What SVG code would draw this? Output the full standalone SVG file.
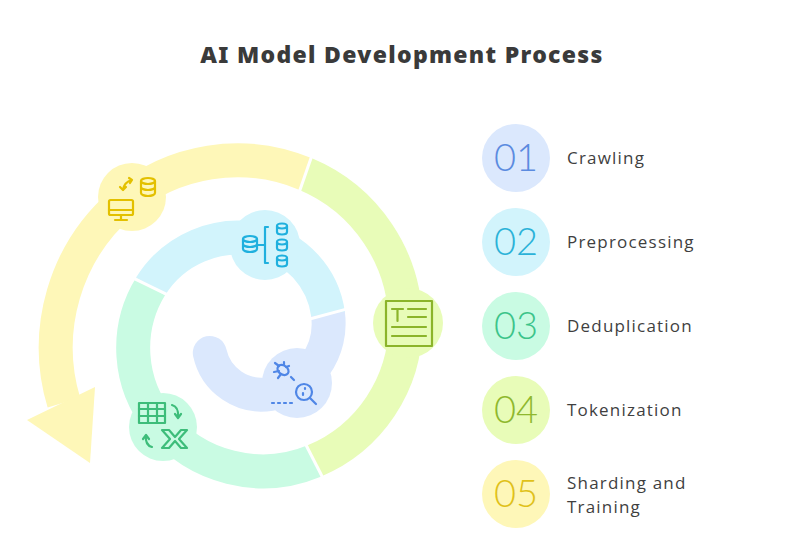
<svg xmlns="http://www.w3.org/2000/svg" width="793" height="537" viewBox="0 0 793 537">
<style>
.band{fill:none;stroke-width:34}
.sep{stroke:#fff;stroke-width:3}
.ic{fill:none;stroke-width:2.2;stroke-linecap:round;stroke-linejoin:round}
.num{font-family:Lato,"Liberation Sans",sans-serif;font-size:38px;font-weight:300}
.lbl{font-family:"Open Sans","Liberation Sans",sans-serif;font-size:17px;fill:#3f3f3f;letter-spacing:1.2px}
</style>
<rect width="793" height="537" fill="#fff"/>
<text x="402" y="63" text-anchor="middle" font-family="'Noto Sans','Liberation Sans',sans-serif" font-size="23" font-weight="900" letter-spacing="1.3" fill="#3a3a3a">AI Model Development Process</text>
<g id="connectors">
<path class="band" stroke="#dbe8fd" stroke-linecap="round" d="M209.8,352.9 A53 53 0 0 0 270.3,393.9 A71.5 71.5 0 0 0 328,314.1"/>
<path class="band" stroke="#d2f4fc" d="M328,314.1 A88 88 0 0 0 260,239.9 A103 103 0 0 0 150.5,286.5"/>
<path class="band" stroke="#c9fbe3" d="M150.5,286.5 A118 118 0 0 0 159.6,422.4 A133.5 133.5 0 0 0 314.2,461"/>
<path class="band" stroke="#e8fcb8" d="M314.2,461 A148.5 148.5 0 0 0 405.5,324.1 A163 163 0 0 0 305.5,174"/>
<path class="band" stroke="#fef7b8" d="M305.5,174 A177 177 0 0 0 122.3,202.8 A191 191 0 0 0 63.9,402.7"/>
<polygon fill="#fef7b8" points="27,420 95,387 90,463"/>
<line class="sep" x1="310.6" y1="318.8" x2="345.4" y2="309.4"/>
<line class="sep" x1="166.7" y1="294.4" x2="134.3" y2="278.6"/>
<line class="sep" x1="306" y1="445" x2="322.4" y2="477"/>
<line class="sep" x1="299.6" y1="191" x2="311.4" y2="157"/>
</g>
<g id="icon-crawling">
<circle cx="132" cy="197" r="34" fill="#fef7b8"/>
<g class="ic" stroke="#e3c000">
<rect x="109" y="200" width="24" height="15" rx="1.5"/><line x1="109" y1="210" x2="133" y2="210"/><line x1="121" y1="215" x2="121" y2="220"/><line x1="115" y1="220" x2="127" y2="220"/>
<ellipse cx="148" cy="181" rx="7" ry="3"/><path d="M141,181 v12 a7 3 0 0 0 14 0 v-12 M141,187 a7 3 0 0 0 14 0"/>
<path d="M132,180 q-8,2 -9,10 M120,187 l3,3 3,-3 M129,178 l3,2 -2,3"/>
</g></g>
<g id="icon-preprocessing">
<circle cx="265" cy="245" r="35" fill="#d2f4fc"/>
<g class="ic" stroke="#1fb0de">
<ellipse cx="250" cy="239" rx="7" ry="3"/><path d="M243,239 v10 a7 3 0 0 0 14 0 v-10 M243,244 a7 3 0 0 0 14 0"/>
<line x1="257" y1="245" x2="264" y2="245"/><path d="M268,227 h-3 v36 h3"/>
<ellipse cx="282" cy="226" rx="5" ry="2.5"/><path d="M277,226 v6 a5 2.5 0 0 0 10 0 v-6"/>
<ellipse cx="282" cy="242" rx="5" ry="2.5"/><path d="M277,242 v6 a5 2.5 0 0 0 10 0 v-6"/>
<ellipse cx="282" cy="258" rx="5" ry="2.5"/><path d="M277,258 v6 a5 2.5 0 0 0 10 0 v-6"/>
</g></g>
<g id="icon-deduplication">
<circle cx="163" cy="427" r="34" fill="#c9fbe3"/>
<g class="ic" stroke="#3dbd7a">
<rect x="139" y="403" width="26" height="20"/><line x1="139" y1="409" x2="165" y2="409"/><line x1="139" y1="416" x2="165" y2="416"/><line x1="148" y1="403" x2="148" y2="423"/><line x1="157" y1="403" x2="157" y2="423"/>
<path d="M172,405 q7,2 6,12 M175,414 l3,4 3,-4"/>
<path d="M152,447 q-7,-2 -6,-11 M143,439 l3,-4 3,4"/>
<path d="M162,430 h7 l6,7 6,-7 h6 l-8,9 8,9 h-6 l-6,-7 -6,7 h-7 l8,-9 z"/>
</g></g>
<g id="icon-tokenization">
<circle cx="408" cy="323" r="35" fill="#e8fcb8"/>
<g class="ic" stroke="#8bb42a">
<rect x="386" y="301" width="46" height="45"/><path d="M392,309 h11 M397.5,309 v12 M408,309 h18 M408,317 h18 M392,327 h34 M392,336 h34"/>
</g></g>
<g id="icon-crawling-bug">
<circle cx="297" cy="383" r="35" fill="#dbe8fd"/>
<g class="ic" stroke="#4f86e6">
<ellipse cx="283" cy="370" rx="6" ry="4.5" transform="rotate(35 283 370)"/><path d="M275,363 l4,3 M274,372 l5,-1 M278,378 l3,-4 M284,362 l0,3 M289,366 l-3,1"/>
<line x1="291" y1="377" x2="294" y2="380"/>
<circle cx="304" cy="392" r="8"/><line x1="310" y1="398" x2="316" y2="404"/><path d="M305,388 v1 M303,393 v2"/>
<path d="M272,403 h2 M278,403 h2 M284,403 h2 M290,403 h2"/>
</g></g>
<g id="step-01"><circle cx="516" cy="158" r="34" fill="#dbe8fd"/><text class="num" x="516" y="171" text-anchor="middle" fill="#5b8be0">01</text><text class="lbl" x="567" y="164">Crawling</text></g>
<g id="step-02"><circle cx="516" cy="242" r="34" fill="#d2f4fc"/><text class="num" x="516" y="255" text-anchor="middle" fill="#2bb2d8">02</text><text class="lbl" x="567" y="248">Preprocessing</text></g>
<g id="step-03"><circle cx="516" cy="326" r="34" fill="#c9fbe3"/><text class="num" x="516" y="339" text-anchor="middle" fill="#3cc48a">03</text><text class="lbl" x="567" y="332">Deduplication</text></g>
<g id="step-04"><circle cx="516" cy="410" r="34" fill="#e8fcb8"/><text class="num" x="516" y="423" text-anchor="middle" fill="#8fb82e">04</text><text class="lbl" x="567" y="416">Tokenization</text></g>
<g id="step-05"><circle cx="516" cy="494" r="34" fill="#fef7b8"/><text class="num" x="516" y="507" text-anchor="middle" fill="#e0c11a">05</text><text class="lbl" x="567" y="489">Sharding and</text><text class="lbl" x="567" y="513">Training</text></g>
</svg>
